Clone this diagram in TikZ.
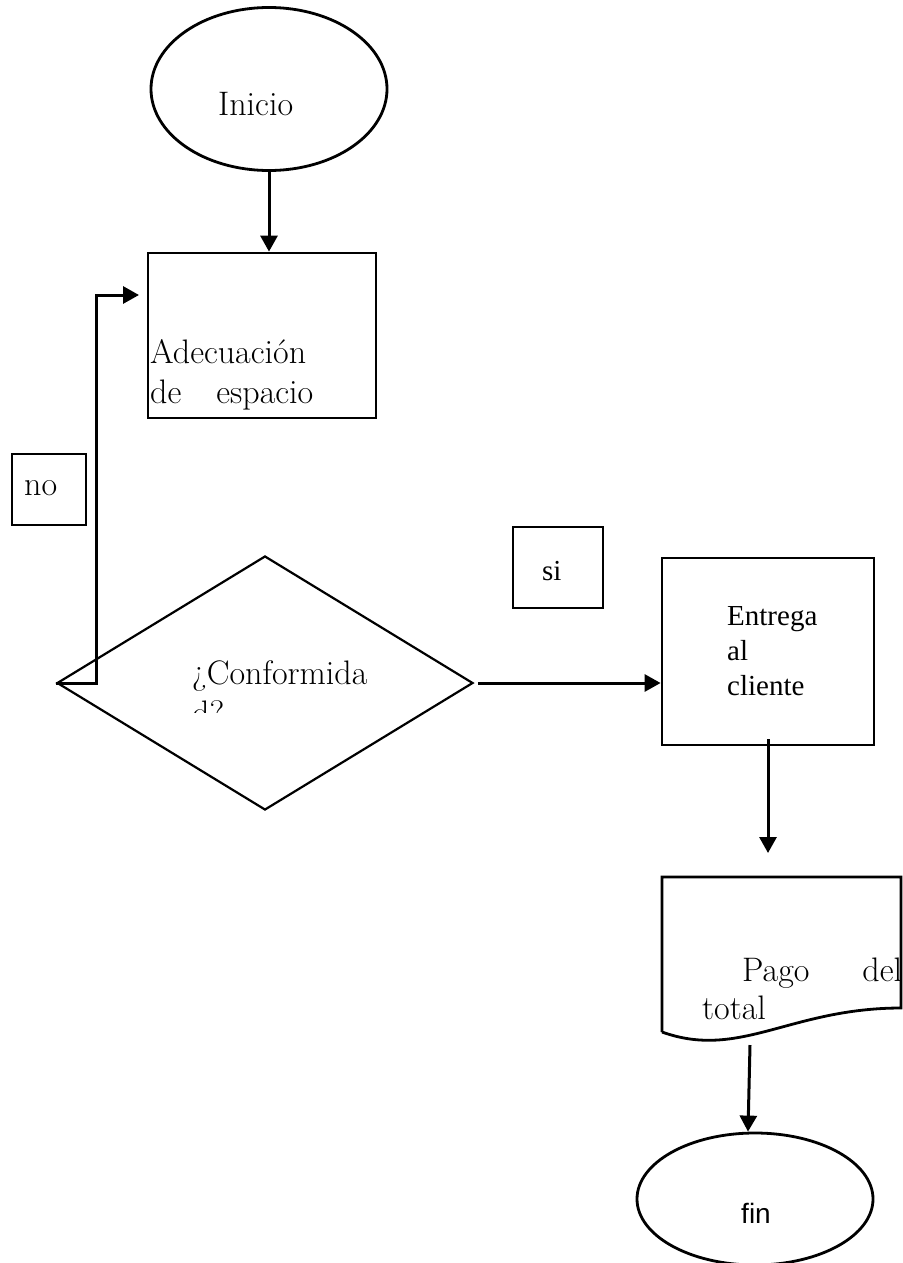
\documentclass[tikz,border=0pt]{standalone}
\usepackage{fontspec}
\newfontfamily\timesfont{Liberation Serif}
\newfontfamily\arialfont{Liberation Sans}
\usepackage{tikz}
\usetikzlibrary{positioning,arrows.meta,shapes.geometric}

\begin{document}
\begin{tikzpicture}[x=1pt, y=-1pt,
    caja/.style={draw, line width=2.8pt, inner sep=0pt},
    flecha/.style={-{Triangle[width=17pt,length=16pt]}, line width=3pt},
    texto/.style={inner sep=0pt, anchor=base west, align=left,
      font=\fontsize{34}{40}\selectfont},
    textoT/.style={inner sep=0pt, anchor=base west, align=left,
      font=\timesfont\fontsize{29}{35}\selectfont}]
  \useasboundingbox (0,0) rectangle (902,1263);

  % formas
  \node[caja, ellipse, minimum width=236pt, minimum height=163pt] (ini) at (269,89) {};
  \node[caja, rectangle, minimum width=228pt, minimum height=165pt] (adec) at (262,335.5) {};
  \node[caja, rectangle, minimum width=74pt, minimum height=71pt] (no) at (49,489.5) {};
  \node[caja, diamond, line width=2.2pt, minimum width=416pt, minimum height=254pt] (dia) at (265,683) {};
  \node[caja, rectangle, line width=1.7pt, minimum width=90pt, minimum height=81pt] (si) at (558,567.5) {};
  \node[caja, rectangle, minimum width=212pt, minimum height=187pt] (ent) at (768,651.5) {};
  \draw[line width=2.8pt] (662,1032) coordinate (pagoSO) -- (662,877) coordinate (pagoNO)
    -- (901,877) coordinate (pagoNE) -- (901,1008) coordinate (pagoSE)
    .. controls (790,1008) and (740,1060) .. (pagoSO);
  \node[caja, ellipse, minimum width=236pt, minimum height=132pt] (fin) at (755,1199) {};

  % textos (base = ultima linea)
  \node[texto] (iniT) at (218,115) {Inicio};
  \node[texto] (adecT) at (150,403) {Adecuación\\de\hspace{35pt}espacio};
  \node[texto] (noT) at (24,495) {no};
  \begin{scope}
    \clip (150,560) rectangle (450,712);
    \node[texto] (diaT) at (192,724) {¿Conformida\\d?};
  \end{scope}
  \node[textoT] (siT) at (542,580) {si};
  \node[textoT] (entT) at (727,695) {Entrega\\al\\cliente};
  \node[texto, font=\fontsize{34}{38}\selectfont] (pagoT) at (702,1019) {\hspace*{40pt}Pago\hspace{53pt}del\\total};
  \node[inner sep=0pt, anchor=base, font=\arialfont\fontsize{28}{34}\selectfont] (finT) at (756,1223) {fin};

  % conectores
  \coordinate (noin) at (139,295);
  \coordinate (pagoin) at (768,853);
  \coordinate (pagoout) at (750,1045);
  \draw[flecha] (ini.south) -- (ini.south |- adec.north);
  \draw[flecha] (dia.west) -- ++(41,0) |- (noin);
  \draw[flecha, shorten <=4pt] (dia.east) -- (dia.east -| ent.west);
  \draw[flecha] ([yshift=7pt]ent.south) -- (pagoin);
  \draw[flecha] (pagoout) -- ([xshift=-7pt]fin.north);
\end{tikzpicture}
\end{document}
